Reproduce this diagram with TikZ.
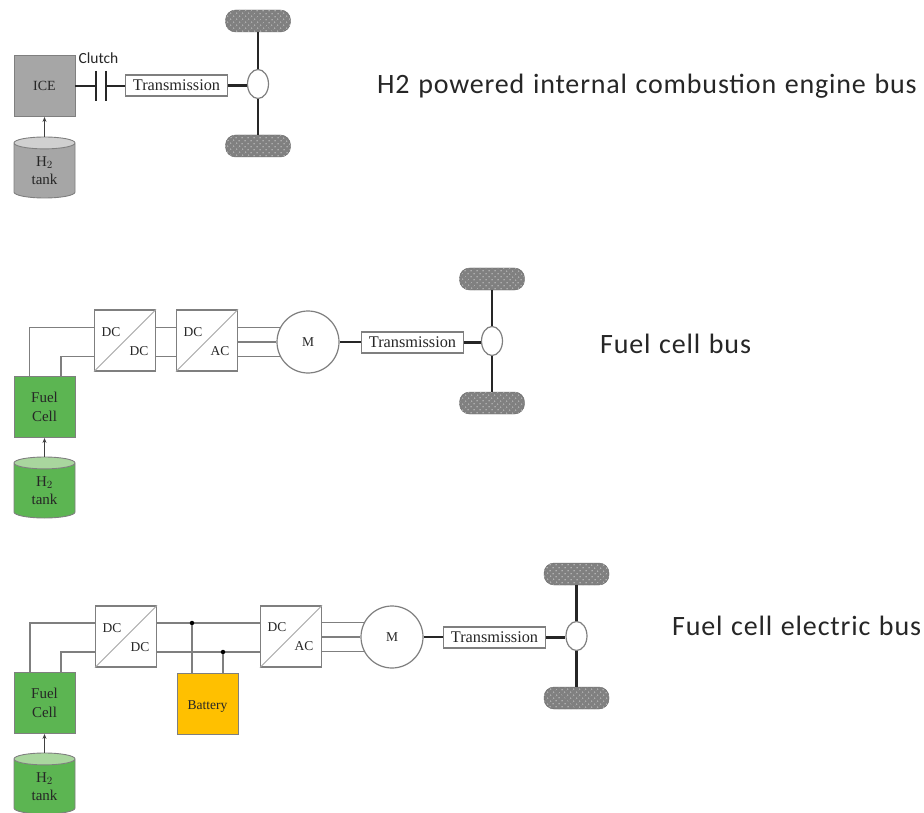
\documentclass[tikz,border=0pt]{standalone}
\usepackage{fontspec}
\setmainfont{Liberation Serif}
\usetikzlibrary{arrows.meta, patterns.meta, shapes.geometric}
\newfontfamily\capfont[LetterSpace=3,WordSpace=1.2]{Carlito}
\newfontfamily\clufont{Carlito}
\definecolor{bxline}{HTML}{7F7F7F}
\definecolor{icegray}{HTML}{A6A6A6}
\definecolor{topgray}{HTML}{D0D0D0}
\definecolor{fcgreen}{HTML}{5CB552}
\definecolor{topgreen}{HTML}{A9D69E}
\definecolor{batyel}{HTML}{FFC000}
\definecolor{txt}{HTML}{262626}
\tikzset{%
    lab/.style={text=txt, font=\fontsize{15}{18.5}\selectfont, align=center, inner sep=0pt},
    capl/.style={lab, font=\fontsize{13.5}{16}\selectfont},
    capt/.style={text=txt, font=\capfont\fontsize{28}{32}\selectfont, anchor=west, inner sep=0pt},
    bx/.style={lab, rectangle, draw=bxline, line width=0.9pt, minimum width=61pt, minimum height=61pt},
    conv/.style={bx, line width=1.2pt, fill=white},
    dia/.style={draw=black!35, line width=0.8pt},
    wir/.style={draw=bxline, line width=1.2pt},
    sha/.style={line width=2.2pt, draw=black!85},
    whl/.style={rectangle, rounded corners=10pt, draw=black!60, fill=black!50, minimum width=65pt, minimum height=22pt, inner sep=0pt,
        postaction={rounded corners=10pt, pattern={Dots[distance=4pt,radius=0.9pt,angle=45]}, pattern color=black!30}},
    dif/.style={ellipse, draw=bxline, line width=1.2pt, fill=white, minimum width=21pt, minimum height=29pt, inner sep=0pt},
    tra/.style={lab, font=\fontsize{16.3}{18}\selectfont, rectangle, draw=bxline, line width=1.2pt, fill=white, minimum width=102pt, minimum height=21pt},
    mot/.style={capl, circle, draw=bxline, line width=1.2pt, fill=white, minimum size=62pt},
    tnk/.style={lab, cylinder, shape border rotate=90, aspect=0.46, draw=bxline, line width=0.9pt, minimum width=61pt, minimum height=61pt, cylinder uses custom fill, anchor=shape center},
    fee/.style={line width=0.8pt, draw=black!75, -{Stealth[length=5pt,width=4pt]}},
    dot/.style={circle, fill=black, minimum size=4.5pt, inner sep=0pt},
}
\begin{document}
\begin{tikzpicture}[x=1pt,y=-1pt]
    \useasboundingbox (0,0) rectangle (924,813);
    \node [bx,fill=icegray,font=\fontsize{14}{16}\selectfont] (ICE) at (44.5,86) {ICE};
    \node [tnk,cylinder body fill=icegray,cylinder end fill=topgray] (tankA) at (44.5,167.5) {H$_2$\\tank};
    \draw [fee] (tankA.top) -- (ICE.south);
    \coordinate (cluL) at (96,86);
    \coordinate (cluR) at (106,86);
    \node [lab,font=\clufont\fontsize{15.5}{17}\selectfont] (clutch) at (98.5,58) {Clutch};
    \node [tra] (traA) at (176.5,85.5) {Transmission};
    \node [dif] (difA) at (258,84) {};
    \node [whl] (whlAt) at (258,21) {};
    \node [whl] (whlAb) at (258,146) {};
    \draw [sha] (ICE.east |- cluL) -- (cluL);
    \draw [sha] ([yshift=15pt]cluL) -- ([yshift=-15pt]cluL);
    \draw [sha] ([yshift=15pt]cluR) -- ([yshift=-15pt]cluR);
    \draw [sha] (cluR) -- (traA.west |- cluR);
    \draw [sha] (traA.east) -- (difA.west |- traA.east);
    \draw [sha] (whlAt.south) -- (difA.north);
    \draw [sha] (difA.south) -- (whlAb.north);
    \node [capt] (capA) at (377,86) {H2 powered internal combustion engine bus};

    \node [bx,fill=fcgreen] (fcB) at (44.5,407) {Fuel\\Cell};
    \node [tnk,cylinder body fill=fcgreen,cylinder end fill=topgreen] (tankB) at (44.5,487.5) {H$_2$\\tank};
    \node [conv] (dcB) at (125,340.5) {};
    \node [conv] (dacB) at (207,340.5) {};
    \node [mot] (motB) at (308,342) {M};
    \node [tra] (traB) at (412.5,342.5) {Transmission};
    \node [dif] (difB) at (492,341) {};
    \node [whl] (whlBt) at (492,279) {};
    \node [whl] (whlBb) at (492,403) {};
    \draw [fee] (tankB.top) -- (fcB.south);
    \draw [dia] (dcB.south west) -- (dcB.north east);
    \draw [dia] (dacB.south west) -- (dacB.north east);
    \node [capl] (dcBa) at (111,332) {DC};
    \node [capl] (dcBb) at (139,351) {DC};
    \node [capl] (dacBa) at (193,332) {DC};
    \node [capl] (dacBb) at (220,351) {AC};
    \draw [wir] ([xshift=-15pt]fcB.north) |- ([yshift=13pt]dcB.west);
    \draw [wir] ([xshift=16.5pt]fcB.north) |- ([yshift=-16pt]dcB.west);
    \draw [wir] ([yshift=13pt]dcB.east) -- ([yshift=13pt]dacB.west);
    \draw [wir] ([yshift=-16pt]dcB.east) -- ([yshift=-16pt]dacB.west);
    \draw [wir] (motB.152 -| dacB.east) -- (motB.152);
    \draw [wir] (motB.west -| dacB.east) -- (motB.west);
    \draw [wir] (motB.208 -| dacB.east) -- (motB.208);
    \draw [sha] (motB.east) -- (traB.west |- motB.east);
    \draw [sha] (traB.east) -- (difB.west |- traB.east);
    \draw [sha] (whlBt.south) -- (difB.north);
    \draw [sha] (difB.south) -- (whlBb.north);
    \node [capt] (capB) at (600,344) {Fuel cell bus};

    \node [bx,fill=fcgreen] (fcC) at (44.5,703) {Fuel\\Cell};
    \node [tnk,cylinder body fill=fcgreen,cylinder end fill=topgreen] (tankC) at (44.5,783.5) {H$_2$\\tank};
    \node [conv] (dcC) at (126,636.5) {};
    \node [conv] (dacC) at (291,636.5) {};
    \node [bx,fill=batyel,font=\fontsize{13.5}{16}\selectfont,text height=12pt,text depth=0pt] (bat) at (207.5,703.5) {Battery};
    \node [mot] (motC) at (392,637) {M};
    \node [tra] (traC) at (494.5,637.5) {Transmission};
    \node [dif] (difC) at (576.5,636) {};
    \node [whl] (whlCt) at (576.5,574) {};
    \node [whl] (whlCb) at (576.5,698) {};
    \draw [fee] (tankC.top) -- (fcC.south);
    \draw [dia] (dcC.south west) -- (dcC.north east);
    \draw [dia] (dacC.south west) -- (dacC.north east);
    \node [capl] (dcCa) at (112,628) {DC};
    \node [capl] (dcCb) at (140,647) {DC};
    \node [capl] (dacCa) at (277,627) {DC};
    \node [capl] (dacCb) at (304,646) {AC};
    \draw [wir] ([xshift=-14.5pt]fcC.north) |- ([yshift=13.5pt]dcC.west);
    \draw [wir] ([xshift=16.5pt]fcC.north) |- ([yshift=-15.5pt]dcC.west);
    \draw [wir] ([yshift=13.5pt]dcC.east) -- ([yshift=13.5pt]dacC.west);
    \draw [wir] ([yshift=-15.5pt]dcC.east) -- ([yshift=-15.5pt]dacC.west);
    \node [dot] (dotCa) at (192,623) {};
    \node [dot] (dotCb) at (223,652) {};
    \draw [wir] (dotCa) -- (dotCa |- bat.north);
    \draw [wir] (dotCb) -- (dotCb |- bat.north);
    \draw [wir] (motC.152 -| dacC.east) -- (motC.152);
    \draw [wir] (motC.west -| dacC.east) -- (motC.west);
    \draw [wir] (motC.208 -| dacC.east) -- (motC.208);
    \draw [sha] (motC.east) -- (traC.west |- motC.east);
    \draw [sha] (traC.east) -- (difC.west |- traC.east);
    \draw [sha] (whlCt.south) -- (difC.north);
    \draw [sha] (difC.south) -- (whlCb.north);
    \node [capt] (capC) at (672,626) {Fuel cell electric bus};
\end{tikzpicture}
\end{document}
